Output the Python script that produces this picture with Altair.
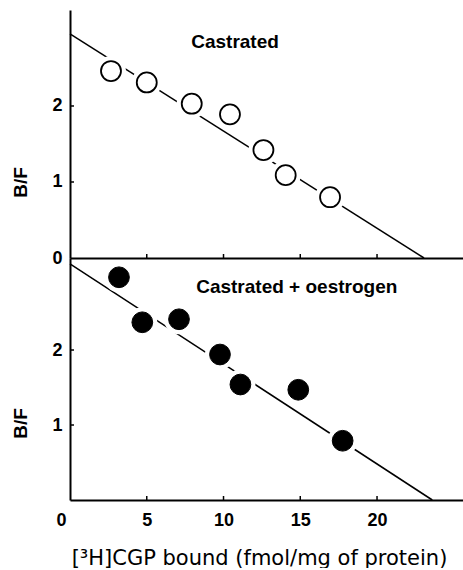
import altair as alt
import pandas as pd

FONT = "Liberation Sans"

# Castrated (open circles)
top_x = [2.67, 5.0, 7.93, 10.42, 12.6, 14.05, 16.94]
top_y = [2.46, 2.31, 2.03, 1.89, 1.42, 1.09, 0.80]
top_fit_x = [0.0, 23.06]
top_fit_y = [2.95, 0.0]

# Castrated + oestrogen (filled circles)
bot_x = [3.19, 4.71, 7.10, 9.77, 11.10, 14.87, 17.76]
bot_y = [2.97, 2.37, 2.41, 1.94, 1.54, 1.47, 0.79]
bot_fit_x = [0.0, 23.6]
bot_fit_y = [3.15, 0.0]

x_tick_values = [0, 5, 10, 15, 20]
x_inner_ticks = [5, 10, 15, 20]
y_ticks_top = [0, 1, 2]
y_ticks_bot = [1, 2]
y_inner_ticks = [1, 2]

labels_top = ["Castrated"]
labels_top_x = [10.75]
labels_top_y = [2.84]
labels_bot = ["Castrated + oestrogen"]
labels_bot_x = [14.77]
labels_bot_y = [2.835]

X_MAX = 25.6
W = 393


def panel(px, py, fx, fy, lab, lx, ly, filled, ymax, height, bottom, yvals):
    xs = alt.Scale(domain=[0, X_MAX], nice=False, zero=False)
    ys = alt.Scale(domain=[0, ymax], nice=False, zero=False)
    if bottom:
        xaxis = alt.Axis(values=x_tick_values, ticks=False, grid=False,
                         labelFont=FONT, labelFontSize=18, labelFontWeight="bold",
                         labelColor="black", labelPadding=11,
                         labelOffset=alt.expr("datum.value === 0 ? -14 : 0"),
                         domainColor="black", domainWidth=2,
                         title="[³H]CGP bound (fmol/mg of protein)",
                         titleFont="DejaVu Sans", titleFontSize=21,
                         titleFontWeight="normal",
                         titleColor="black", titleX=189, titleY=58,
                         titleAlign="center", titleBaseline="middle")
    else:
        xaxis = alt.Axis(labels=False, ticks=False, grid=False, title=None,
                         domainColor="black", domainWidth=2)
    yaxis = alt.Axis(values=yvals, ticks=False, grid=False,
                     labelFont=FONT, labelFontSize=18, labelFontWeight="bold",
                     labelColor="black", labelPadding=8,
                     domainColor="black", domainWidth=2,
                     title="B/F", titleFont=FONT, titleFontSize=19,
                     titleFontWeight="bold", titleColor="black",
                     titleX=-50, titleY=(172 if not bottom else 165),
                     titleAlign="center", titleBaseline="middle", titleAngle=270)

    def X(f):
        return alt.X(f, scale=xs, axis=xaxis)

    def Y(f):
        return alt.Y(f, scale=ys, axis=yaxis)

    fit = pd.DataFrame({"x": fx, "y": fy})
    pts = pd.DataFrame({"x": px, "y": py})
    ann = pd.DataFrame({"x": lx, "y": ly, "t": lab})
    xt = pd.DataFrame({"v": x_inner_ticks})
    yt = pd.DataFrame({"v": y_inner_ticks})

    line = alt.Chart(fit).mark_line(color="black", strokeWidth=1.5).encode(
        x=X("x:Q"), y=Y("y:Q"))
    halo = alt.Chart(pts).mark_point(shape="circle", filled=True, color="white",
                                     opacity=1, size=900).encode(
        x=X("x:Q"), y=Y("y:Q"))
    if filled:
        dots = alt.Chart(pts).mark_point(shape="circle", filled=True, fill="black",
                                         stroke="black", strokeWidth=1, opacity=1,
                                         size=430)
    else:
        dots = alt.Chart(pts).mark_point(shape="circle", filled=True, fill="white",
                                         stroke="black", strokeWidth=1.8, opacity=1,
                                         size=400)
    dots = dots.encode(x=X("x:Q"), y=Y("y:Q"))
    text = alt.Chart(ann).mark_text(font=FONT, fontSize=19, fontWeight="bold",
                                    color="black").encode(
        x=X("x:Q"), y=Y("y:Q"), text="t:N")
    xtick = alt.Chart(xt).mark_rule(color="black", strokeWidth=1.5).encode(
        x=X("v:Q"), y=alt.value(height), y2=alt.value(height - 4))
    ytick = alt.Chart(yt).mark_rule(color="black", strokeWidth=1.5).encode(
        y=Y("v:Q"), x=alt.value(0), x2=alt.value(4))
    return alt.layer(line, halo, dots, text, xtick, ytick).properties(
        width=W, height=height)


top = panel(top_x, top_y, top_fit_x, top_fit_y, labels_top, labels_top_x,
            labels_top_y, False, 3.263, 248, False, y_ticks_top)
bot = panel(bot_x, bot_y, bot_fit_x, bot_fit_y, labels_bot, labels_bot_x,
            labels_bot_y, True, 3.227, 242, True, y_ticks_bot)

chart = alt.vconcat(top, bot, spacing=0, bounds="flush").properties(
    padding={"left": 11, "top": 10, "right": 0, "bottom": 0},
    background="white",
).configure_view(stroke=None)

chart.save("out.html", embed_options={"renderer": "svg", "actions": False})
